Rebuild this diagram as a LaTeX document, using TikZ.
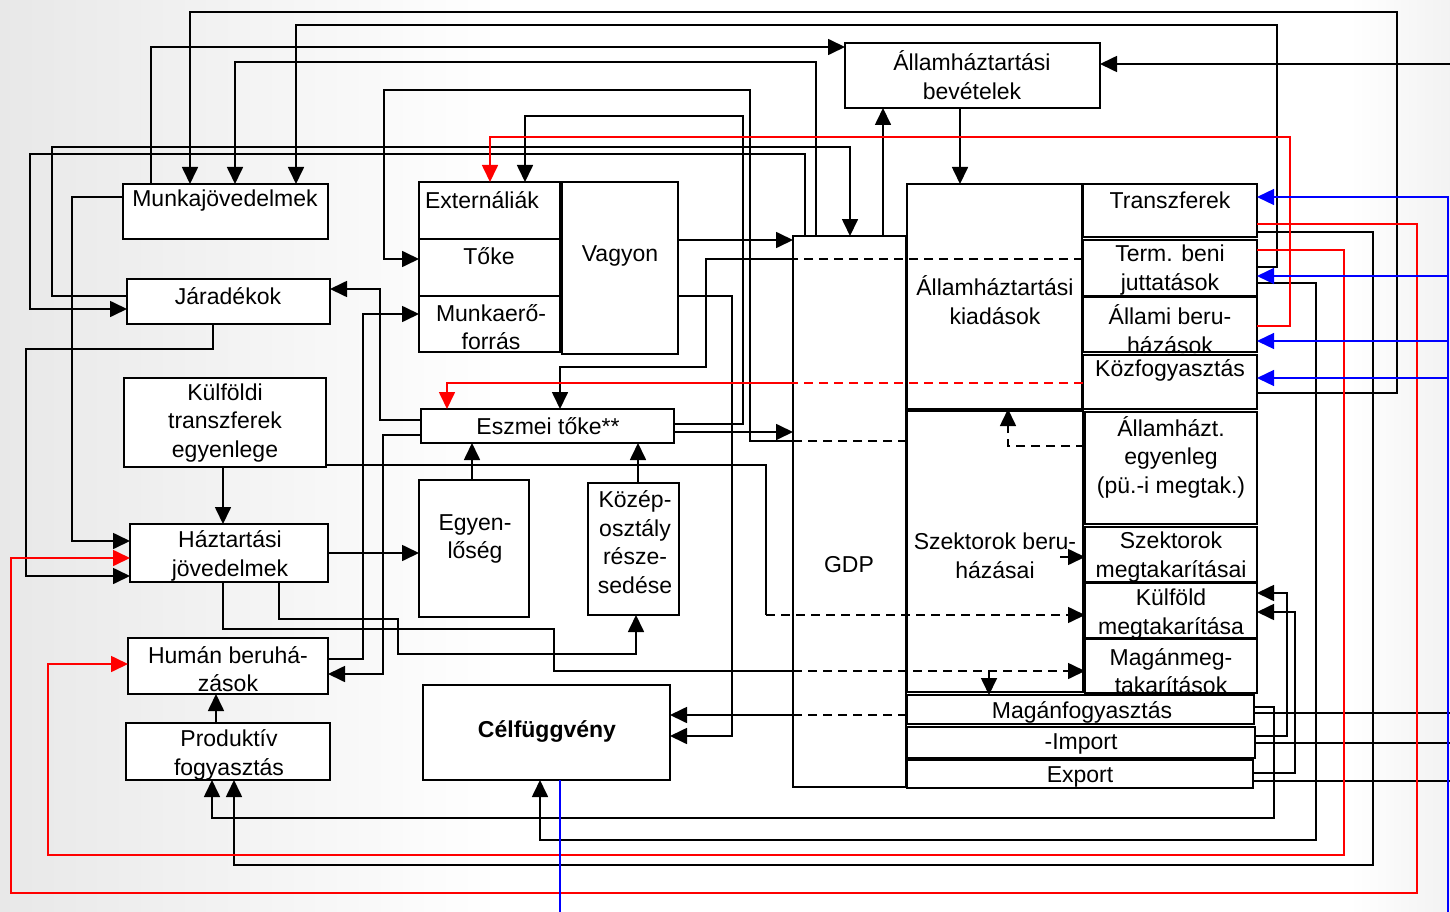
\documentclass[tikz,border=0pt]{standalone}
\usepackage{fontspec}
\setmainfont{Liberation Sans}
\usetikzlibrary{arrows.meta,fit}
\newcommand\mybox[5]{\node[box, fit={(#2,#3) (#4,#5)}] (#1) {};}
\begin{document}
\begin{tikzpicture}[x=1pt,y=-1pt,
  box/.style={draw, fill=white, line width=1.7pt, inner sep=0pt, outer sep=0pt},
  txt/.style={align=center, inner sep=0pt, font=\fontsize{23}{28.5}\selectfont},
  ln/.style={line width=1.7pt, line join=miter},
  arr/.style={ln, -{Triangle[length=17pt,width=16pt]}},
  dsh/.style={line width=1.6pt, dash pattern=on 9pt off 6pt},
  tip/.style={-{Triangle[length=17pt,width=16pt]}},
  bln/.style={line width=1.4pt, draw=blue},
]
\useasboundingbox (0,0) rectangle (1450,912);
\shade[left color=black!9, right color=white] (0,0) rectangle (500,912);
\fill[white] (500,0) rectangle (1350,912);
\shade[left color=white, right color=black!5] (1350,0) rectangle (1450,912);

% ---- boxes ----
\mybox{munka}{123}{184}{328}{239}
\mybox{jarad}{127}{279}{330}{324}
\mybox{kulft}{124}{378}{326}{467}
\mybox{haztj}{130}{524}{328}{582}
\mybox{human}{128}{638}{328}{694}
\mybox{prod}{126}{723}{330}{780}
\mybox{cel}{423}{685}{670}{780}
\mybox{ext}{419}{182}{560}{239}
\mybox{toke}{419}{239}{560}{296}
\mybox{munkae}{419}{296}{560}{352}
\mybox{vagyon}{562}{182}{678}{354}
\mybox{eszmei}{421}{409}{674}{443}
\mybox{egyen}{419}{480}{529}{617}
\mybox{kozep}{588}{483}{679}{615}
\mybox{gdp}{793}{236}{906}{787}
\mybox{ahtb}{845}{43}{1100}{108}
\mybox{ahtk}{907}{184}{1082}{409}
\mybox{szb}{907}{411}{1083}{692}
\mybox{transz}{1083}{184}{1257}{237}
\mybox{term}{1083}{240}{1257}{296}
\mybox{allb}{1083}{297}{1257}{352}
\mybox{kozf}{1083}{355}{1257}{409}
\mybox{ahte}{1085}{412}{1257}{524}
\mybox{szm}{1085}{527}{1257}{582}
\mybox{kulm}{1085}{583}{1257}{638}
\mybox{magm}{1085}{639}{1257}{693}
\mybox{magf}{907}{695}{1254}{724}
\mybox{imp}{907}{727}{1255}{758}
\mybox{exp}{907}{760}{1253}{788}

% ---- free ends ----
\coordinate (eR1) at (1450,64);
\coordinate (eR2) at (1450,713);
\coordinate (eR3) at (1450,743);
\coordinate (eR4) at (1450,781);
\coordinate (eB1) at (560,912);
\coordinate (eB2) at (1448,912);
\coordinate (j1) at (989,671);
\coordinate (j2) at (1060,557);

% ---- black connectors ----
\draw[arr] (ahtb.south -| 960,0) -- (ahtk.north -| 960,0);
\draw[arr] (gdp.north -| 883,0) -- (ahtb.south -| 883,0);
\draw[arr] (munka.north -| 151,0) -- (151,47) -- (ahtb.west |- 0,47);
\draw[arr] (gdp.north -| 816,0) -- (816,62) -- (235,62) -- (munka.north -| 235,0);
\draw[arr] (term.east |- 0,267) -- (1277,267) -- (1277,25) -- (296,25) -- (munka.north -| 296,0);
\draw[arr] (kozf.east |- 0,393) -- (1397,393) -- (1397,12) -- (190,12) -- (munka.north -| 190,0);
\draw[arr] (jarad.west |- 0,296) -- (52,296) -- (52,147) -- (850,147) -- (gdp.north -| 850,0);
\draw[arr] (gdp.north -| 805,0) -- (805,154) -- (30,154) -- (30,309) -- (jarad.west |- 0,309);
\draw[dsh] (szb.west |- 0,441) -- (gdp.west |- 0,441);
\draw[arr] (gdp.west |- 0,441) -- (750,441) -- (750,90) -- (384,90) -- (384,259) -- (toke.west |- 0,259);
\draw[arr] (eszmei.east |- 0,424) -- (743,424) -- (743,116) -- (525,116) -- (ext.north -| 525,0);
\draw[arr] (vagyon.east |- 0,240) -- (gdp.west |- 0,240);
\draw[dsh] (term.west |- 0,259) -- (gdp.west |- 0,259);
\draw[arr] (gdp.west |- 0,259) -- (706,259) -- (706,367) -- (560,367) -- (eszmei.north -| 560,0);
\draw[arr] (vagyon.east |- 0,296) -- (732,296) -- (732,736) -- (cel.east |- 0,736);
\draw[dsh] (magf.west |- 0,715) -- (gdp.west |- 0,715);
\draw[arr] (gdp.west |- 0,715) -- (cel.east |- 0,715);
\draw[arr] (eszmei.east |- 0,432) -- (gdp.west |- 0,432);
\draw[arr] (eszmei.west |- 0,420) -- (380,420) -- (380,289) -- (jarad.east |- 0,289);
\draw[arr] (eszmei.west |- 0,435) -- (383,435) -- (383,674) -- (human.east |- 0,674);
\draw[arr] (human.east |- 0,659) -- (363,659) -- (363,314) -- (munkae.west |- 0,314);
\draw[arr] (munka.west |- 0,197) -- (72,197) -- (72,541) -- (haztj.west |- 0,541);
\draw[arr] (jarad.south -| 213,0) -- (213,349) -- (26,349) -- (26,576) -- (haztj.west |- 0,576);
\draw[arr] (kulft.south -| 223,0) -- (haztj.north -| 223,0);
\draw[arr] (haztj.east |- 0,553) -- (egyen.west |- 0,553);
\draw[arr] (egyen.north -| 472,0) -- (eszmei.south -| 472,0);
\draw[arr] (kozep.north -| 638,0) -- (eszmei.south -| 638,0);
\draw[arr] (haztj.south -| 279,0) -- (279,619) -- (398,619) -- (398,654) -- (636,654) -- (kozep.south -| 636,0);
\draw[ln] (haztj.south -| 223,0) -- (223,629) -- (554,629) -- (554,671) -- (gdp.west |- 0,671);
\draw[dsh,tip] (gdp.west |- 0,671) -- (magm.west |- 0,671);
\draw[arr] (j1) -- (magf.north -| 989,0);
\draw[ln] (kulft.east |- 0,465) -- (766,465) -- (766,615);
\draw[dsh,tip] (766,615) -- (kulm.west |- 0,615);
\draw[dsh,tip] (ahte.west |- 0,446) -- (1008,446) -- (ahtk.south -| 1008,0);
\draw[dsh,tip] (j2) -- (szm.west |- 0,557);
\draw[arr] (prod.north -| 216,0) -- (human.south -| 216,0);
\draw[arr] (magf.east |- 0,707) -- (1274,707) -- (1274,818) -- (212,818) -- (prod.south -| 212,0);
\draw[arr] (transz.east |- 0,232) -- (1373,232) -- (1373,865) -- (234,865) -- (prod.south -| 234,0);
\draw[arr] (term.east |- 0,283) -- (1316,283) -- (1316,840) -- (540,840) -- (cel.south -| 540,0);
\draw[arr] (imp.east |- 0,736) -- (1287,736) -- (1287,593) -- (kulm.east |- 0,593);
\draw[arr] (exp.east |- 0,773) -- (1295,773) -- (1295,612) -- (kulm.east |- 0,612);
\draw[arr] (eR1) -- (ahtb.east |- 0,64);
\draw[ln] (magf.east |- 0,713) -- (eR2);
\draw[ln] (imp.east |- 0,743) -- (eR3);
\draw[ln] (exp.east |- 0,781) -- (eR4);

% ---- red connectors ----
\draw[arr, red] (allb.east |- 0,326) -- (1290,326) -- (1290,137) -- (490,137) -- (ext.north -| 490,0);
\draw[dsh, red] (kozf.west |- 0,383) -- (gdp.west |- 0,383);
\draw[arr, red] (gdp.west |- 0,383) -- (447,383) -- (eszmei.north -| 447,0);
\draw[arr, red] (transz.east |- 0,224) -- (1417,224) -- (1417,893) -- (11,893) -- (11,558) -- (haztj.west |- 0,558);
\draw[arr, red] (term.east |- 0,250) -- (1344,250) -- (1344,855) -- (48,855) -- (48,664) -- (human.west |- 0,664);

% ---- blue connectors ----
\draw[bln] (cel.south -| 560,0) -- (eB1);
\draw[bln, tip] (eB2) -- (1448,197) -- (transz.east |- 0,197);
\draw[bln, tip] (1448,276) -- (term.east |- 0,276);
\draw[bln, tip] (1448,341) -- (allb.east |- 0,341);
\draw[bln, tip] (1448,378) -- (kozf.east |- 0,378);

% ---- texts ----
\node[txt] (t-munka) at (225,201) {Munkajövedelmek};
\node[txt] (t-jarad) at (228,296) {Járadékok};
\node[txt] (t-kulft) at (225,423) {Külföldi\\transzferek\\egyenlege};
\node[txt] (t-haztj) at (230,556) {Háztartási\\jövedelmek};
\node[txt] (t-human) at (228,669) {Humán beruhá-\\zások};
\node[txt] (t-prod) at (229,755) {Produktív\\fogyasztás};
\node[txt, font=\fontsize{23}{28.5}\selectfont\bfseries] (t-cel) at (547,731) {Célfüggvény};
\node[txt] (t-ext) at (482,200) {Externáliák};
\node[txt] (t-toke) at (489,256) {Tőke};
\node[txt] (t-munkae) at (491,327) {Munkaerő-\\forrás};
\node[txt] (t-vagyon) at (620,256) {Vagyon};
\node[txt] (t-eszmei) at (548,426) {Eszmei tőke**};
\node[txt] (t-egyen) at (475,539) {Egyen-\\lőség};
\node[txt] (t-kozep) at (635,542) {Közép-\\osztály\\része-\\sedése};
\node[txt] (t-gdp) at (849,565) {GDP};
\node[txt] (t-ahtb) at (972,75) {Államháztartási\\bevételek};
\node[txt] (t-ahtk) at (995,300) {Államháztartási\\kiadások};
\node[txt] (t-szb) at (995,556) {Szektorok beru-\\házásai};
\node[txt] (t-transz) at (1170,200) {Transzferek};
\node[txt] (t-term) at (1170,270) {Term. beni\\juttatások};
\node[txt] (t-allb) at (1170,329) {Állami beru-\\házások};
\node[txt] (t-kozf) at (1170,370) {Közfogyasztás};
\node[txt] (t-ahte) at (1171,457) {Államházt.\\egyenleg\\(pü.-i megtak.)};
\node[txt] (t-szm) at (1171,557) {Szektorok\\megtakarításai};
\node[txt] (t-kulm) at (1171,614) {Külföld\\megtakarítása};
\node[txt] (t-magm) at (1171,671) {Magánmeg-\\takarítások};
\node[txt] (t-magf) at (1082,712) {Magánfogyasztás};
\node[txt] (t-imp) at (1081,744) {-Import};
\node[txt] (t-exp) at (1080,777) {Export};
\end{tikzpicture}
\end{document}
